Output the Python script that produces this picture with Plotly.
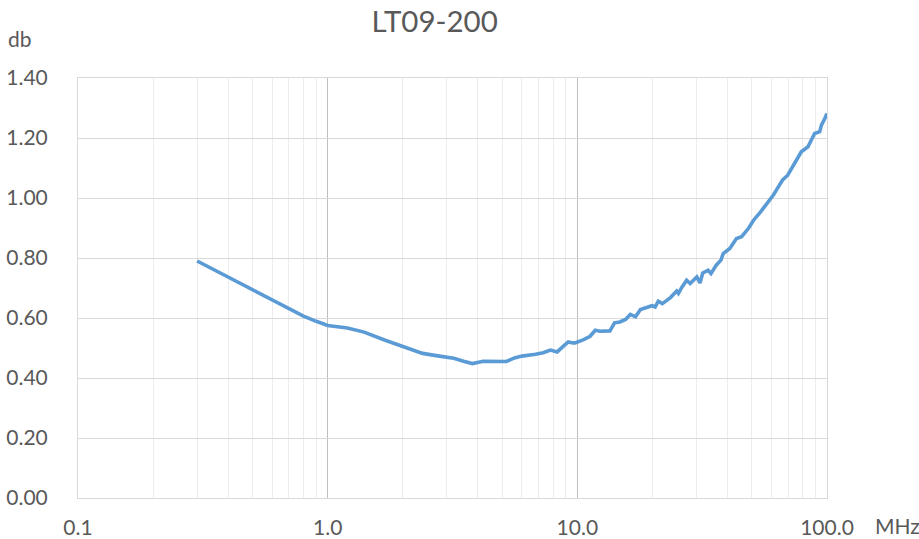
import plotly.graph_objects as go

freq_mhz = [0.3, 0.4, 0.5, 0.6, 0.7, 0.8, 0.9, 1.0, 1.2, 1.4, 1.7, 2.0, 2.4, 2.8,
            3.2, 3.5, 3.8, 4.2, 4.6, 5.2, 5.6, 6.0, 6.8, 7.3, 7.8, 8.3, 8.8, 9.2,
            9.6, 9.8, 10.6, 11.25, 11.8, 12.3, 13.5, 14.1, 14.8, 15.6, 16.3, 17.1,
            17.9, 19.0, 19.9, 20.5, 21.1, 21.9, 23.6, 25.0, 25.4, 26.2, 27.4, 28.3,
            30.1, 31.0, 31.8, 33.4, 34.3, 36.0, 37.6, 38.4, 40.8, 43.4, 45.5, 48.5,
            50.8, 54.2, 57.6, 61.0, 63.3, 66.4, 69.6, 72.9, 76.4, 78.9, 83.9, 86.5,
            89.2, 93.5, 95.0, 98.0, 100.0]
loss_db = [0.790, 0.737, 0.695, 0.659, 0.632, 0.606, 0.589, 0.575, 0.567, 0.553,
           0.526, 0.504, 0.482, 0.473, 0.466, 0.456, 0.448, 0.456, 0.455, 0.455,
           0.467, 0.473, 0.479, 0.484, 0.493, 0.487, 0.506, 0.520, 0.517, 0.517,
           0.528, 0.539, 0.559, 0.556, 0.557, 0.584, 0.587, 0.595, 0.612, 0.604,
           0.628, 0.635, 0.641, 0.637, 0.656, 0.648, 0.668, 0.690, 0.682, 0.702,
           0.726, 0.715, 0.737, 0.717, 0.750, 0.759, 0.748, 0.776, 0.793, 0.815,
           0.832, 0.865, 0.871, 0.899, 0.926, 0.954, 0.982, 1.010, 1.032, 1.060,
           1.076, 1.104, 1.132, 1.154, 1.171, 1.193, 1.215, 1.221, 1.243, 1.265,
           1.282]

x_tickvals = [0.1, 1, 10, 100]
x_ticktext = ["0.1", "1.0", "10.0", "100.0"]
title_text = "LT09-200"
y_label = "db"
x_label = "MHz"

FONT = "Lato, 'Open Sans', sans-serif"
TXT = "#595959"
TICK_SIZE = 21

fig = go.Figure()
fig.add_trace(go.Scatter(
    x=freq_mhz, y=loss_db, mode="lines",
    line=dict(color="#5b9bd5", width=3.6, shape="linear"),
    showlegend=False, hoverinfo="skip",
))

fig.update_layout(
    width=919, height=539,
    margin=dict(l=78, r=92, t=78, b=41, autoexpand=False),
    paper_bgcolor="white", plot_bgcolor="white",
    font=dict(family=FONT, color=TXT, size=TICK_SIZE),
    title=dict(text=title_text, x=0.473, xref="container", xanchor="center",
               y=0.9592, yref="container", yanchor="middle",
               font=dict(family=FONT, size=29.5, color=TXT)),
    xaxis=dict(
        type="log", range=[-1, 2], automargin=False,
        tickvals=x_tickvals, ticktext=x_ticktext,
        showgrid=True, gridcolor="#bfbfbf", gridwidth=1,
        minor=dict(dtick="D1", showgrid=True, gridcolor="#ececec", gridwidth=1, ticks=""),
        showline=True, linecolor="#d9d9d9", linewidth=1, mirror=True,
        ticks="", ticklabelstandoff=11, zeroline=False,
        tickfont=dict(family=FONT, size=TICK_SIZE, color=TXT),
    ),
    yaxis=dict(
        range=[0, 1.4], dtick=0.2, tick0=0, tickformat=".2f", automargin=False,
        showgrid=True, gridcolor="#d9d9d9", gridwidth=1,
        showline=True, linecolor="#d9d9d9", linewidth=1, mirror=True,
        ticks="", ticklabelstandoff=25, zeroline=False,
        tickfont=dict(family=FONT, size=TICK_SIZE, color=TXT),
    ),
    annotations=[
        dict(text=y_label, xref="paper", yref="paper", x=-0.0775, y=1.095,
             xanchor="center", yanchor="middle", showarrow=False,
             font=dict(family=FONT, size=TICK_SIZE, color=TXT)),
        dict(text=x_label, xref="paper", yref="paper", x=1.094, y=-0.066,
             xanchor="center", yanchor="middle", showarrow=False,
             font=dict(family=FONT, size=TICK_SIZE, color=TXT)),
    ],
)

fig.write_html(
    "out.html",
    config={"displayModeBar": False, "staticPlot": True},
    post_script="document.body.style.margin='0px';"
                "document.body.style.overflow='hidden';"
                "document.documentElement.style.overflow='hidden';",
)
